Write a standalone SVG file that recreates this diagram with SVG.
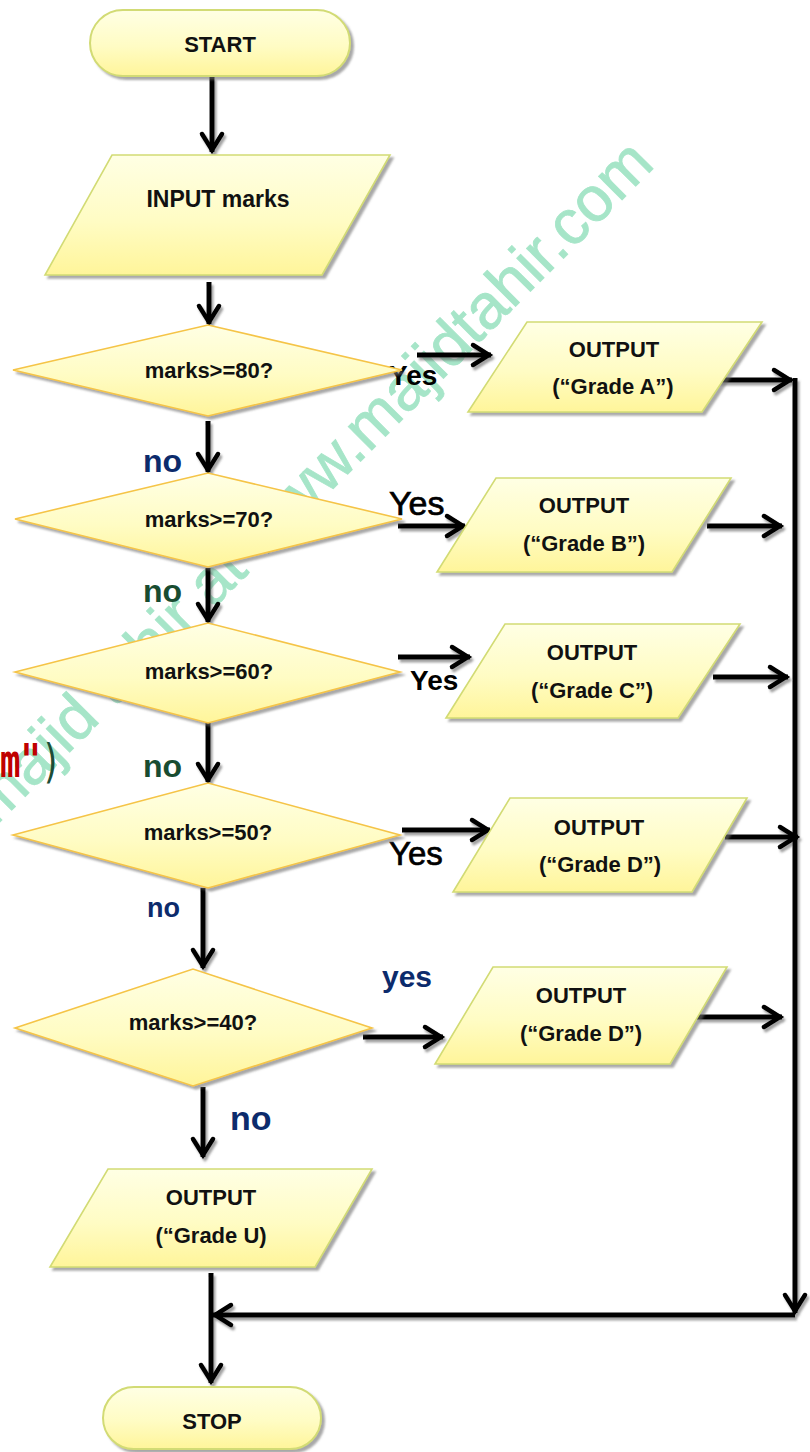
<svg xmlns="http://www.w3.org/2000/svg" width="810" height="1452" viewBox="0 0 810 1452">
  <defs>
    <linearGradient id="fillY" x1="0" y1="0" x2="0" y2="1">
      <stop offset="0" stop-color="#ffffe4"/>
      <stop offset="0.55" stop-color="#fffcc4"/>
      <stop offset="1" stop-color="#fff59a"/>
    </linearGradient>
    <filter id="shapeShadow" filterUnits="userSpaceOnUse" x="0" y="0" width="810" height="1452">
      <feDropShadow dx="3" dy="3" stdDeviation="1.2" flood-color="#6e6e6e" flood-opacity="0.6"/>
    </filter>
    <filter id="lineShadow" filterUnits="userSpaceOnUse" x="0" y="0" width="810" height="1452">
      <feDropShadow dx="2" dy="3" stdDeviation="0.9" flood-color="#555" flood-opacity="0.55"/>
    </filter>
    <marker id="head" viewBox="0 0 24 24" refX="21" refY="12" markerWidth="24" markerHeight="24" markerUnits="userSpaceOnUse" orient="auto" overflow="visible">
      <path d="M3,2 L19,12 L3,22" fill="none" stroke="#000" stroke-width="4.5" stroke-linejoin="miter" stroke-linecap="round"/>
    </marker>
    <style>
      .term { fill: url(#fillY); stroke: #d2db74; stroke-width: 2; filter: url(#shapeShadow); }
      .para { fill: url(#fillY); stroke: #d2db74; stroke-width: 1.6; filter: url(#shapeShadow); }
      .dia  { fill: url(#fillY); stroke: #f5c447; stroke-width: 1.6; filter: url(#shapeShadow); }
      .lbl  { font-family: "Liberation Sans", Arial, sans-serif; font-weight: bold; font-size: 22px; fill: #111; text-anchor: middle; }
      .big  { font-size: 23px; }
      .term-t { font-size: 22px; }
      .wire { fill: none; stroke: #000; stroke-width: 5; marker-end: url(#head); }
      .ans  { font-family: "Liberation Sans", Arial, sans-serif; font-weight: bold; }
      .semi { font-family: "Liberation Sans", Arial, sans-serif; stroke: #000; stroke-width: 0.7; }
      .navy { fill: #0c2b6c; }
      .forest { fill: #184c31; }
      .blk { fill: #000; }
      .wm { font-family: "Liberation Sans", Arial, sans-serif; font-size: 63px; fill: #a6e5c8; stroke: #a6e5c8; stroke-width: 0.8; text-anchor: end; }
    </style>
  </defs>

  <rect width="810" height="1452" fill="#ffffff"/>

  <!-- diagonal site watermark -->
  <text class="wm" transform="translate(656,166) rotate(-45)" x="0" y="0">majid tahir at www.majidtahir.com</text>

  <!-- clipped code fragment at the left edge -->
  <text transform="translate(0,777) scale(1,1.35)" font-family="'DejaVu Sans Mono', 'Liberation Mono', monospace" font-size="34" font-weight="bold"><tspan fill="#c00000">m"</tspan><tspan fill="#1d4d35" font-weight="normal">)</tspan></text>

  <!-- connectors -->
  <g id="connectors" filter="url(#lineShadow)">
    <path class="wire" d="M212,77 V152"/>
    <path class="wire" d="M209,282 V324"/>
    <path class="wire" d="M208,421 V472"/>
    <path class="wire" d="M208,568 V622"/>
    <path class="wire" d="M208,723 V782"/>
    <path class="wire" d="M203,888 V968"/>
    <path class="wire" d="M203,1087 V1157"/>
    <path class="wire" d="M211,1273 V1383"/>

    <path class="wire" d="M417,355 H491"/>
    <path class="wire" d="M398,526 H465"/>
    <path class="wire" d="M398,657 H470"/>
    <path class="wire" d="M402,830 H490"/>
    <path class="wire" d="M363,1037 H443"/>

    <path class="wire" d="M717,380 H792"/>
    <path class="wire" d="M707,526 H782"/>
    <path class="wire" d="M713,677 H788"/>
    <path class="wire" d="M725,837 H798"/>
    <path class="wire" d="M697,1017 H782"/>

    <path class="wire" d="M795,378 V1313"/>
    <path class="wire" d="M795,1315 H213"/>
  </g>

  <!-- branch labels -->
  <g id="labels">
    <text class="ans navy" x="143" y="472" font-size="32">no</text>
    <text class="ans forest" x="143" y="602" font-size="32">no</text>
    <text class="ans forest" x="143" y="777" font-size="32">no</text>
    <text class="ans navy" x="147" y="917" font-size="27">no</text>
    <text class="ans navy" x="230" y="1130" font-size="34">no</text>

    <text class="ans blk" x="389" y="385" font-size="28">Yes</text>
    <text class="semi blk" x="389" y="515" font-size="34">Yes</text>
    <text class="ans blk" x="410" y="690" font-size="28">Yes</text>
    <text class="semi blk" x="389" y="865" font-size="33">Yes</text>
    <text class="ans navy" x="382" y="987" font-size="30">yes</text>
  </g>

  <g id="start">
    <rect class="term" x="90" y="10" width="260" height="66" rx="33"/>
    <text class="lbl term-t" x="220" y="52">START</text>
  </g>

  <g id="input">
    <polygon class="para" points="112,155 390,155 322,275 45,275"/>
    <text class="lbl big" x="218" y="207">INPUT marks</text>
  </g>

  <g id="dec80">
    <polygon class="dia" points="13,370 208,325 402,370 208,416"/>
    <text class="lbl" x="209" y="378">marks&gt;=80?</text>
  </g>

  <g id="dec70">
    <polygon class="dia" points="15,519 208,473 402,519 208,567"/>
    <text class="lbl" x="209" y="527">marks&gt;=70?</text>
  </g>

  <g id="dec60">
    <polygon class="dia" points="15,672 208,623 400,672 208,723"/>
    <text class="lbl" x="209" y="679">marks&gt;=60?</text>
  </g>

  <g id="dec50">
    <polygon class="dia" points="13,835 208,783 400,835 208,888"/>
    <text class="lbl" x="208" y="840">marks&gt;=50?</text>
  </g>

  <g id="dec40">
    <polygon class="dia" points="15,1028 193,969 372,1028 193,1086"/>
    <text class="lbl" x="193" y="1030">marks&gt;=40?</text>
  </g>

  <g id="outA">
    <polygon class="para" points="527,322 762,322 702,412 468,412"/>
    <text class="lbl" x="614" y="357">OUTPUT</text>
    <text class="lbl" x="613" y="394">(“Grade A”)</text>
  </g>

  <g id="outB">
    <polygon class="para" points="496,478 731,478 672,572 437,572"/>
    <text class="lbl" x="584" y="513">OUTPUT</text>
    <text class="lbl" x="584" y="551">(“Grade B”)</text>
  </g>

  <g id="outC">
    <polygon class="para" points="505,624 740,624 678,718 446,718"/>
    <text class="lbl" x="592" y="660">OUTPUT</text>
    <text class="lbl" x="592" y="698">(“Grade C”)</text>
  </g>

  <g id="outD1">
    <polygon class="para" points="510,798 747,798 692,892 453,892"/>
    <text class="lbl" x="599" y="835">OUTPUT</text>
    <text class="lbl" x="600" y="872">(“Grade D”)</text>
  </g>

  <g id="outD2">
    <polygon class="para" points="493,967 727,967 670,1064 435,1064"/>
    <text class="lbl" x="581" y="1003">OUTPUT</text>
    <text class="lbl" x="581" y="1041">(“Grade D”)</text>
  </g>

  <g id="outU">
    <polygon class="para" points="108,1169 372,1169 315,1267 50,1267"/>
    <text class="lbl" x="211" y="1205">OUTPUT</text>
    <text class="lbl" x="211" y="1243">(“Grade U)</text>
  </g>

  <g id="stop">
    <rect class="term" x="103" y="1387" width="218" height="62" rx="31"/>
    <text class="lbl term-t" x="212" y="1429">STOP</text>
  </g>
</svg>
